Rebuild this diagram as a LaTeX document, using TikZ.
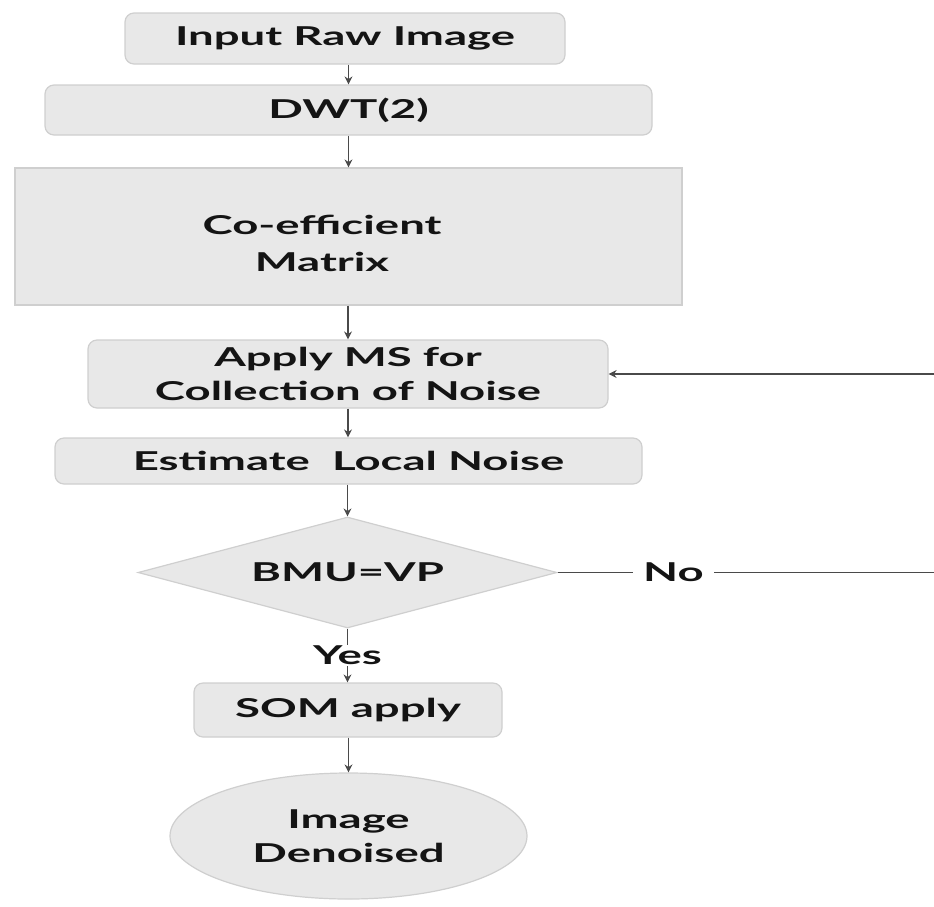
\documentclass[tikz,border=0pt]{standalone}
\usepackage{fontspec}
\setmainfont[FakeStretch=1.75]{Lato}
\usetikzlibrary{shapes.geometric,arrows.meta}
\definecolor{boxfill}{HTML}{E8E8E8}
\definecolor{boxline}{HTML}{CFCFCF}
\definecolor{linkgray}{HTML}{4A4A4A}
\definecolor{inkblack}{HTML}{141414}
\tikzset{
  labelfont/.style={font=\fontsize{26}{34}\selectfont\bfseries},
  stepbox/.style={draw=boxline, fill=boxfill, line width=1.2pt, rounded corners=9pt,
    inner sep=0pt, align=center, text=inkblack, labelfont},
  squarebox/.style={stepbox, rounded corners=0pt},
  decision/.style={diamond, draw=boxline, fill=boxfill, line width=1.2pt, inner sep=0pt,
    aspect=3.8, text=inkblack, labelfont},
  terminal/.style={ellipse, draw=boxline, fill=boxfill, line width=1.2pt, inner sep=0pt,
    align=center, text=inkblack, labelfont},
  flow/.style={draw=linkgray, line width=1.4pt, -{Stealth[length=8pt,width=8pt]}},
  tag/.style={fill=white, inner ysep=2pt, inner xsep=10pt, text=inkblack, labelfont}
}
\begin{document}
\begin{tikzpicture}[x=1pt,y=-1pt]
  \useasboundingbox (0,0) rectangle (934,906);
  \clip (0,0) rectangle (934,906);

  % process steps
  \node[stepbox, minimum width=440pt, minimum height=51pt] (input) at (345,38.5) {Input Raw Image};
  \node[stepbox, minimum width=607pt, minimum height=50pt] (dwt) at (348.5,110) {DWT(2)};
  \node[squarebox, minimum width=667pt, minimum height=137pt] (coeff) at (348.5,236.5) {};
  \node[align=center, text=inkblack, font=\fontsize{26}{37}\selectfont\bfseries] (coefftxt) at (322,243) {Co-efficient\\Matrix};
  \node[stepbox, minimum width=520pt, minimum height=68pt] (apply) at (348,374) {Apply MS for\\Collection of Noise};
  \node[stepbox, minimum width=587pt, minimum height=46pt] (estimate) at (348.5,461) {Estimate\ \ Local Noise};
  \node[decision, minimum width=419pt, minimum height=111pt] (bmu) at (347.5,572.5) {BMU=VP};
  \node[stepbox, minimum width=308pt, minimum height=54pt] (som) at (348,710) {SOM apply};
  \node[terminal, minimum width=357pt, minimum height=126pt] (out) at (348.5,836) {Image\\Denoised};

  % feedback route leaves the frame on the right
  \coordinate (turnlow) at (950,572.5);
  \coordinate (turnhigh) at (950,374);

  % connectors
  \draw[flow] (dwt.north |- input.south) -- (dwt.north);
  \draw[flow] (dwt.south) -- (dwt.south |- coeff.north);
  \draw[flow] (apply.north |- coeff.south) -- (apply.north);
  \draw[flow] (apply.south) -- (apply.south |- estimate.north);
  \draw[flow] (bmu.north |- estimate.south) -- (bmu.north);
  \draw[flow] (bmu.south) -- node[tag, inner xsep=4pt, inner ysep=1pt] (yes) {Yes} (bmu.south |- som.north);
  \draw[flow] (out.north |- som.south) -- (out.north);
  \draw[flow] (bmu.east) -- node[tag, pos=0.295] (no) {No} (turnlow) -- (turnhigh) -- (apply.east);
\end{tikzpicture}
\end{document}
